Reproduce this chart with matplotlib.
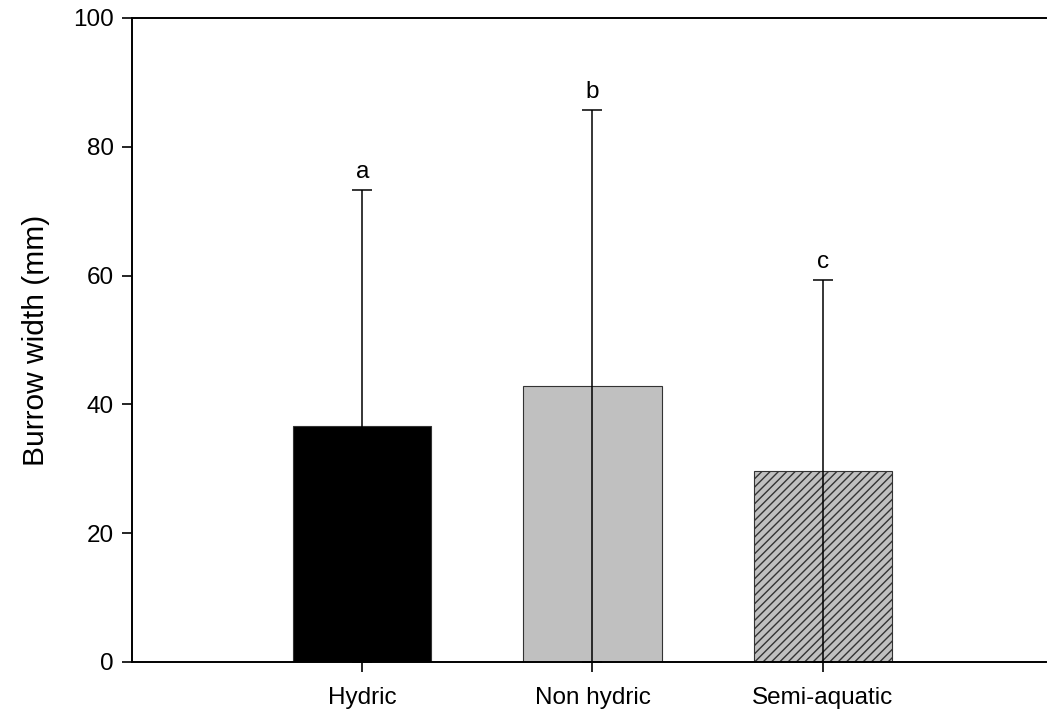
import matplotlib
matplotlib.use("Agg")
import matplotlib.pyplot as plt

# Burrow width by habitat type (mean + SD)
habitats = ["Hydric", "Non hydric", "Semi-aquatic"]
means = [36.6, 42.9, 29.6]
sd = [36.7, 42.8, 29.7]
letters = ["a", "b", "c"]
colors = ["#000000", "#c0c0c0", "#c0c0c0"]
hatches = ["", "", "////"]

plt.rcParams["font.family"] = ["Liberation Sans", "DejaVu Sans"]
plt.rcParams["hatch.linewidth"] = 1.0

fig = plt.figure(figsize=(10.47, 7.19), dpi=100)
ax = fig.add_axes([0.1261, 0.0793, 0.873, 0.8957])

x = list(range(len(habitats)))
bars = ax.bar(x, means, width=0.6, color=colors, edgecolor="#333333",
              linewidth=0.8, zorder=2)
for b, h in zip(bars, hatches):
    b.set_hatch(h)

# error bars run from the baseline up to mean + SD
ax.errorbar(x, means, yerr=[means, sd], fmt="none", ecolor="black",
            elinewidth=1.1, capsize=7, capthick=1.1, zorder=3)

for xi, m, s, lab in zip(x, means, sd, letters):
    ax.annotate(lab, (xi, m + s), xytext=(0, 5), textcoords="offset points",
                ha="center", va="bottom", fontsize=17.5)

ax.set_xlim(-1.0, 2.97)
ax.set_ylim(0, 100)
ax.set_yticks([0, 20, 40, 60, 80, 100])
ax.set_xticks(x)
ax.set_xticklabels(habitats)
ax.set_ylabel("Burrow width (mm)", fontsize=21.5, labelpad=17)

ax.spines["right"].set_visible(False)
for s in ["left", "bottom", "top"]:
    ax.spines[s].set_linewidth(1.4)
ax.tick_params(axis="both", direction="out", length=7, width=1.2,
               labelsize=17.5, pad=6)
ax.tick_params(axis="x", pad=11)

fig.savefig("out.png", dpi=100)
